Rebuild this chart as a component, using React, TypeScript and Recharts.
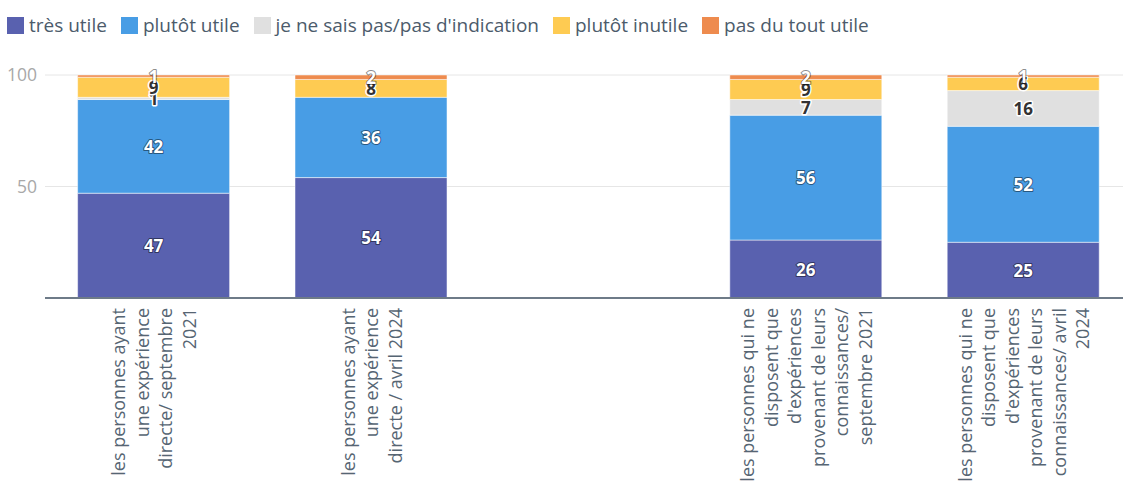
import { BarChart, Bar, XAxis, YAxis, CartesianGrid, LabelList } from 'recharts'

const FONT = '"Open Sans", sans-serif'

// category labels, one entry per line (the middle category is an empty slot)
const categories: string[][] = [
  ['les personnes ayant', 'une expérience', 'directe/ septembre', '2021'],
  ['les personnes ayant', 'une expérience', 'directe / avril 2024'],
  [],
  ['les personnes qui ne', 'disposent que', "d'expériences", 'provenant de leurs', 'connaissances/', 'septembre 2021'],
  ['les personnes qui ne', 'disposent que', "d'expériences", 'provenant de leurs', 'connaissances/ avril', '2024'],
]

const tresUtile = [47, 54, null, 26, 25]
const plutotUtile = [42, 36, null, 56, 52]
const neSaisPas = [1, 0, null, 7, 16]
const plutotInutile = [9, 8, null, 9, 6]
const pasDuTout = [1, 2, null, 2, 1]

const yTicks = [50, 100]

const SERIES = [
  { key: 'tres', name: 'très utile', values: tresUtile, color: '#5961af', light: false },
  { key: 'plutot', name: 'plutôt utile', values: plutotUtile, color: '#489de5', light: false },
  { key: 'nsp', name: "je ne sais pas/pas d'indication", values: neSaisPas, color: '#e0e0e0', light: true },
  { key: 'inutile', name: 'plutôt inutile', values: plutotInutile, color: '#fecb52', light: true },
  { key: 'pasdutout', name: 'pas du tout utile', values: pasDuTout, color: '#ee8b4e', light: false },
]

const data = categories.map((lines, i) => {
  const row: Record<string, any> = { name: lines.join(' '), lines }
  SERIES.forEach((s) => {
    row[s.key] = s.values[i]
  })
  return row
})

const makeLabel = (light: boolean) => (props: any) => {
  const { x, y, width, height, value } = props
  if (!value) return null
  return (
    <text
      x={Number(x) + Number(width) / 2}
      y={Number(y) + Number(height) / 2}
      textAnchor="middle"
      dominantBaseline="central"
      fill={light ? '#333333' : '#ffffff'}
      stroke={light ? '#ffffff' : 'rgba(0,0,0,0.45)'}
      strokeWidth={light ? 3 : 2}
      strokeLinejoin="round"
      paintOrder="stroke"
      fontSize={17}
      fontWeight={700}
      fontFamily={FONT}
    >
      {value}
    </text>
  )
}

const CategoryTick = (props: any) => {
  const { x, y, index } = props
  const lines = categories[index] ?? []
  const step = 23.5
  return (
    <g transform={`translate(${x},${y}) rotate(-90)`}>
      {lines.map((line, i) => (
        <text
          key={i}
          x={0}
          y={(i - (lines.length - 1) / 2) * step}
          textAnchor="end"
          dominantBaseline="central"
          fill="#566573"
          fontSize={18}
          fontFamily={FONT}
        >
          {line}
        </text>
      ))}
    </g>
  )
}

export default function App() {
  return (
    <div style={{ position: 'fixed', left: 0, top: 0, width: 1123, height: 487, overflow: 'hidden', background: '#fff' }}>
      <div
        style={{
          position: 'absolute',
          left: 7,
          top: 12,
          display: 'flex',
          alignItems: 'center',
          fontFamily: FONT,
          fontSize: 19,
          color: '#4c5b6b',
          whiteSpace: 'nowrap',
        }}
      >
        {SERIES.map((s) => (
          <div key={s.key} style={{ display: 'flex', alignItems: 'center', marginRight: 14 }}>
            <span style={{ width: 17, height: 17, background: s.color, display: 'inline-block', marginRight: 5 }} />
            <span>{s.name}</span>
          </div>
        ))}
      </div>
      <BarChart
        width={1132}
        height={487}
        data={data}
        margin={{ top: 75, right: 0, left: 0, bottom: 0 }}
        barCategoryGap="15%"
      >
        <CartesianGrid vertical={false} stroke="#e6e6e6" />
        <XAxis
          dataKey="name"
          interval={0}
          height={189}
          tickLine={false}
          tickSize={0}
          tickMargin={10}
          axisLine={{ stroke: '#6e7b88', strokeWidth: 2 }}
          tick={<CategoryTick />}
        />
        <YAxis
          width={45}
          domain={[0, 100]}
          ticks={yTicks}
          axisLine={false}
          tickLine={false}
          tick={{ fill: '#a8a8a8', fontSize: 17.5, fontFamily: FONT }}
        />
        {SERIES.map((s) => (
          <Bar
            key={s.key}
            dataKey={s.key}
            name={s.name}
            stackId="a"
            fill={s.color}
            stroke="#ffffff"
            strokeWidth={0.5}
            isAnimationActive={false}
          >
            <LabelList dataKey={s.key} content={makeLabel(s.light)} />
          </Bar>
        ))}
      </BarChart>
    </div>
  )
}
